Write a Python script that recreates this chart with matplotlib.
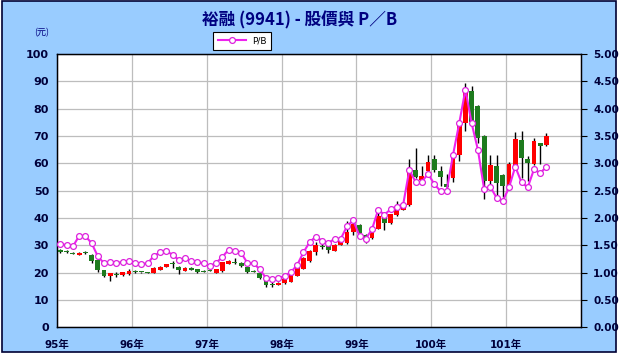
import matplotlib
matplotlib.use('Agg')
import matplotlib.pyplot as plt
import numpy as np
from matplotlib.patches import Rectangle

# 月份 95/01 ~ 101/07
years = ['95', '96', '97', '98', '99', '100', '101']
months = [y + '/' + str(m).zfill(2) for y in years for m in range(1, 13)][:79]

opens = [28.2, 27.9, 27.2, 26.6, 27.4, 26.6, 24.5, 20.8, 18.6, 19.6,
         19.0, 19.5, 20.5, 20.2, 19.9, 19.8, 21.0, 22.0, 23.4, 22.2,
         20.7, 21.7, 21.3, 20.6, 20.9, 19.8, 20.5, 23.1, 24.0, 23.4,
         21.9, 20.5, 19.8, 17.4, 16.0, 15.4, 16.2, 16.7, 18.9, 21.4,
         24.1, 27.7, 29.9, 29.7, 28.1, 30.2, 30.9, 34.8, 37.4, 33.8,
         32.5, 36.0, 40.3, 38.0, 41.0, 43.0, 44.7, 57.7, 54.0, 57.1,
         61.4, 57.1, 52.5, 54.6, 63.2, 74.8, 86.4, 80.9, 69.9, 53.4,
         59.2, 55.7, 51.6, 59.5, 68.7, 61.7, 59.9, 67.3, 66.8]
highs = [28.5, 28.2, 27.4, 27.4, 27.9, 26.8, 25.0, 21.0, 20.0, 20.2,
         20.4, 21.4, 20.9, 20.4, 20.1, 21.9, 22.4, 23.3, 24.2, 22.4,
         21.9, 21.9, 21.5, 20.8, 21.5, 21.5, 24.0, 24.5, 25.3, 23.8,
         22.1, 20.8, 20.0, 17.6, 16.4, 16.4, 17.9, 19.7, 23.2, 25.6,
         28.3, 31.1, 30.5, 30.0, 30.4, 31.6, 38.8, 38.3, 37.8, 34.2,
         36.4, 42.5, 41.8, 41.5, 46.1, 44.9, 61.4, 65.6, 58.9, 63.2,
         63.2, 58.9, 56.0, 64.0, 75.5, 89.4, 88.2, 81.5, 70.2, 63.2,
         63.2, 56.0, 60.5, 71.5, 71.8, 62.5, 69.3, 67.6, 71.0]
lows = [27.3, 27.2, 26.9, 26.5, 27.0, 23.5, 20.3, 18.3, 16.8, 18.4,
        18.9, 19.3, 20.0, 19.9, 19.7, 19.7, 20.9, 21.9, 21.8, 19.5,
        20.6, 21.0, 19.8, 20.2, 20.5, 19.7, 20.4, 23.0, 23.0, 22.0,
        19.8, 20.1, 17.8, 14.6, 14.9, 15.3, 16.0, 16.5, 18.7, 21.2,
        23.9, 26.5, 28.8, 27.2, 27.9, 30.0, 30.6, 33.6, 34.0, 30.9,
        32.3, 35.8, 35.5, 37.8, 40.8, 42.8, 44.5, 54.5, 53.5, 56.5,
        57.0, 51.6, 50.3, 53.0, 61.0, 72.0, 74.0, 67.5, 47.0, 50.4,
        48.5, 47.5, 51.0, 59.0, 54.5, 53.4, 59.5, 59.8, 66.5]
closes = [27.7, 27.4, 27.0, 27.2, 27.1, 24.3, 20.8, 18.7, 19.8, 19.0,
          20.2, 20.7, 20.3, 20.1, 19.8, 21.7, 22.2, 23.1, 23.1, 20.8,
          21.7, 21.1, 20.1, 20.4, 20.7, 21.4, 23.8, 24.3, 23.7, 22.4,
          20.2, 20.3, 18.0, 15.6, 15.6, 16.2, 17.7, 19.5, 22.6, 25.3,
          28.1, 30.2, 29.2, 28.4, 30.2, 31.4, 35.0, 37.8, 34.5, 33.1,
          36.2, 40.8, 38.0, 41.3, 43.0, 44.7, 57.9, 55.0, 55.5, 60.4,
          57.5, 55.0, 51.5, 63.2, 74.8, 87.0, 75.0, 69.3, 53.7, 59.5,
          52.7, 51.6, 59.9, 69.0, 62.0, 60.0, 68.1, 66.5, 69.9]
pb = [1.53, 1.50, 1.48, 1.67, 1.67, 1.54, 1.30, 1.17, 1.20, 1.17,
      1.20, 1.21, 1.17, 1.16, 1.17, 1.31, 1.37, 1.39, 1.33, 1.23,
      1.26, 1.21, 1.19, 1.17, 1.12, 1.18, 1.29, 1.42, 1.40, 1.36,
      1.18, 1.17, 1.06, 0.90, 0.88, 0.90, 0.94, 1.01, 1.14, 1.37,
      1.56, 1.66, 1.58, 1.54, 1.62, 1.62, 1.85, 1.96, 1.67, 1.62,
      1.79, 2.15, 2.06, 2.16, 2.21, 2.24, 2.88, 2.66, 2.66, 2.81,
      2.62, 2.49, 2.50, 3.15, 3.73, 4.35, 3.73, 3.25, 2.53, 2.57,
      2.37, 2.31, 2.56, 2.94, 2.65, 2.56, 2.89, 2.82, 2.94]

year_labels = ['95年', '96年', '97年', '98年', '99年', '100年', '101年']

W, H = 623, 358
navy = '#000080'
fam = ['DejaVu Sans', 'Noto Sans CJK TC']

fig = plt.figure(figsize=(W / 100, H / 100), dpi=100, facecolor='white')
bg = Rectangle((2 / W, 1 - 352 / H), 614 / W, 351 / H,
               transform=fig.transFigure, facecolor='#99CCFF',
               edgecolor='#000033', linewidth=1.2, zorder=-10)
fig.add_artist(bg)

ax = fig.add_axes([57.3 / W, 1 - 327.3 / H, 523.4 / W, 273.3 / H])
ax.set_facecolor('white')

x = np.arange(len(months)) + 0.5
o = np.array(opens)
c = np.array(closes)
up = c >= o
colors = np.where(up, '#FF0000', '#1E7B1E')
bottom = np.minimum(o, c)
height = np.maximum(np.abs(c - o), 0.35)

ax.vlines(x, lows, highs, color='black', linewidth=1, zorder=2)
ax.bar(x, height, 0.78, bottom=bottom, color=colors, linewidth=0, zorder=3)

ax.set_xlim(0, 84)
ax.set_ylim(0, 100)
ax.set_yticks(range(0, 101, 10))
ax.set_xticks(range(0, 84, 12))
ax.set_xticklabels(year_labels)
ax.grid(True, color='#BDBDBD', linewidth=0.9)
ax.set_axisbelow(True)
ax.tick_params(axis='y', length=0, pad=6, labelsize=8, labelcolor='#00003A')
ax.tick_params(axis='x', length=0, pad=9, labelsize=7.5, labelcolor='#00003A')
for lab in ax.get_xticklabels() + ax.get_yticklabels():
    lab.set_fontweight('bold')
    lab.set_family(fam)
for s in ax.spines.values():
    s.set_color('#000022')
    s.set_linewidth(1)

ax2 = ax.twinx()
ax2.set_ylim(0, 5)
ax2.set_yticks(np.arange(0, 5.01, 0.5))
ax2.set_yticklabels(['%.2f' % v for v in np.arange(0, 5.01, 0.5)])
ax2.tick_params(axis='y', length=4, direction='out', pad=5, labelsize=7.5,
                labelcolor='#00003A')
for lab in ax2.get_yticklabels():
    lab.set_fontweight('bold')
line, = ax2.plot(x, pb, color='#EE22EE', linewidth=1.5, marker='o',
                 markersize=4.2, markerfacecolor='white', markeredgecolor='#DD22DD',
                 markeredgewidth=0.9, zorder=5, label='P/B')

fig.text(300 / W, 1 - 20 / H, '裕融 (9941) - 股價與 P／B', ha='center', va='center',
         fontsize=12, fontweight='bold', color=navy,
         family=['Noto Sans CJK TC', 'DejaVu Sans'])
fig.text(42 / W, 1 - 33 / H, '(元)', ha='center', va='center', fontsize=6.5,
         color=navy, family=['Noto Sans CJK TC', 'DejaVu Sans'])

leg = fig.legend(handles=[line], loc='center', bbox_to_anchor=(242 / W, 1 - 41 / H),
                 fontsize=6.5, frameon=True, fancybox=False, framealpha=1,
                 handlelength=3.2, borderpad=0.5, handletextpad=0.6, borderaxespad=0)
leg.get_frame().set_facecolor('white')
leg.get_frame().set_edgecolor('black')
leg.get_frame().set_linewidth(0.8)

fig.savefig('out.png', dpi=100, facecolor=fig.get_facecolor())
